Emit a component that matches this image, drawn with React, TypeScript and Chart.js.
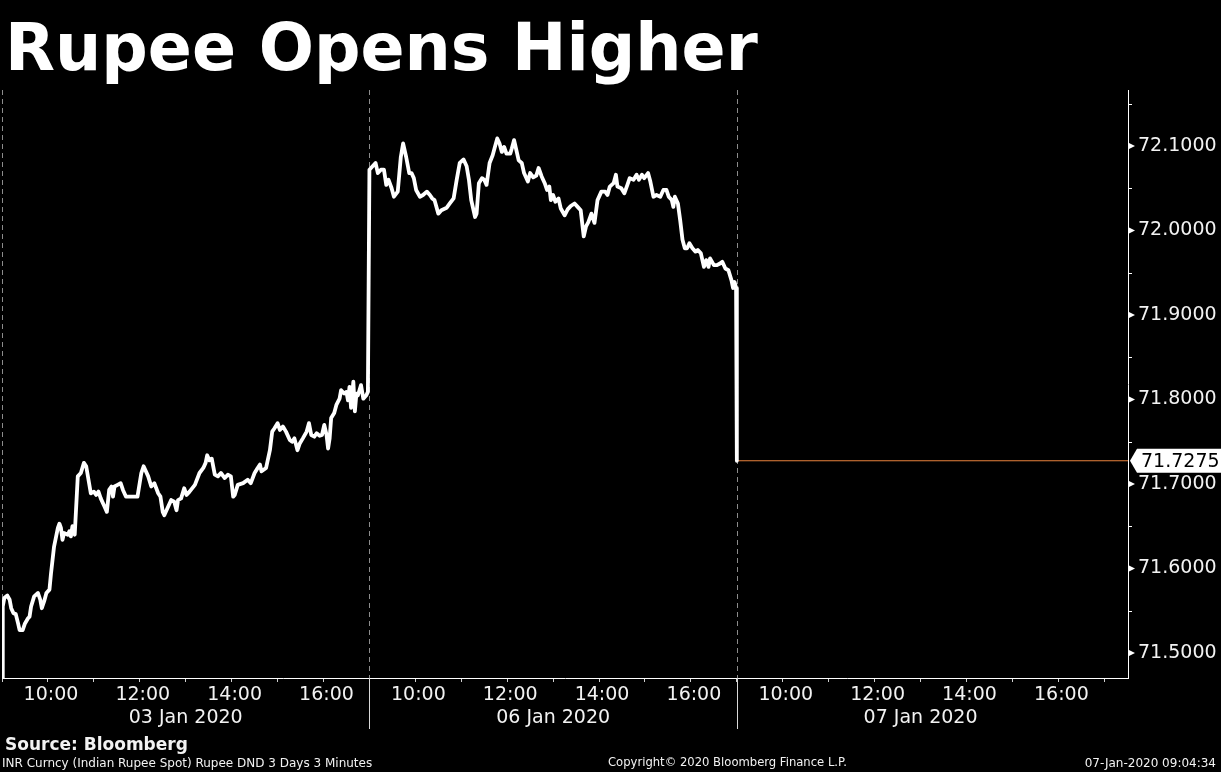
import React, { useEffect, useRef } from "react";
import { Chart, registerables } from "chart.js";

Chart.register(...registerables);

// ---------- text ----------
const chartTitle = "Rupee Opens Higher";
const dayLabels = ["03 Jan 2020", "06 Jan 2020", "07 Jan 2020"];
const sourceText = "Source: Bloomberg";
const securityText = "INR Curncy (Indian Rupee Spot) Rupee DND 3 Days 3 Minutes";
const copyrightText = "Copyright\u00a9 2020 Bloomberg Finance L.P.";
const stampText = "07-Jan-2020 09:04:34";

// ---------- session / axis ----------
const sessionStartHour = 9;
const sessionLength = 480; // minutes, 09:00 - 17:00
const sessionHours = [9, 10, 11, 12, 13, 14, 15, 16, 17];
const labelledHours = [10, 12, 14, 16];
const axisEndMinute = 1471;

const yMin = 71.4704;
const yMax = 72.1663;
const yMajorTicks = [71.5, 71.6, 71.7, 71.8, 71.9, 72.0, 72.1];
const yMinorTicks = [71.55, 71.65, 71.75, 71.85, 71.95, 72.05, 72.15];
const lastPrice = 71.7275;

// ---------- data: [minute after 09:00, price] ----------
const day1Quotes: [number, number][] = [
  [0, 71.47], [1, 71.555], [3, 71.565], [7, 71.568], [10, 71.563], [12, 71.553], [15, 71.547], [18, 71.546],
  [21, 71.535], [23, 71.527], [27, 71.527], [30, 71.535], [34, 71.541], [36, 71.543], [38, 71.555], [42, 71.567],
  [47, 71.571], [50, 71.563], [52, 71.553], [55, 71.561], [58, 71.571], [62, 71.575], [64, 71.594], [68, 71.626],
  [73, 71.648], [75, 71.653], [77, 71.648], [79, 71.634], [81, 71.642], [86, 71.64], [88, 71.644], [90, 71.638],
  [92, 71.65], [95, 71.64], [99, 71.709], [103, 71.713], [107, 71.725], [110, 71.721], [113, 71.705], [116, 71.689],
  [120, 71.691], [123, 71.687], [126, 71.691], [129, 71.683], [134, 71.673], [137, 71.667], [140, 71.693], [143, 71.697],
  [145, 71.685], [147, 71.697], [151, 71.699], [155, 71.701], [158, 71.693], [162, 71.685], [169, 71.685], [177, 71.685],
  [182, 71.713], [185, 71.721], [191, 71.709], [195, 71.697], [199, 71.701], [204, 71.689], [207, 71.685], [210, 71.667],
  [212, 71.663], [217, 71.673], [221, 71.681], [225, 71.679], [228, 71.669], [230, 71.681], [234, 71.683], [238, 71.695],
  [241, 71.687], [245, 71.691], [252, 71.699], [258, 71.713], [263, 71.719], [266, 71.725], [268, 71.734], [271, 71.728],
  [274, 71.73], [278, 71.711], [282, 71.709], [286, 71.713], [291, 71.707], [295, 71.711], [299, 71.709], [302, 71.685],
  [304, 71.687], [308, 71.699], [315, 71.701], [321, 71.705], [325, 71.701], [330, 71.713], [334, 71.719], [337, 71.723],
  [339, 71.715], [345, 71.719], [350, 71.74], [353, 71.762], [356, 71.766], [360, 71.772], [363, 71.764], [367, 71.768],
  [371, 71.762], [376, 71.752], [379, 71.75], [382, 71.754], [386, 71.74], [389, 71.748], [393, 71.754], [398, 71.762],
  [401, 71.772], [404, 71.758], [408, 71.756], [411, 71.76], [415, 71.757], [418, 71.758], [421, 71.77], [424, 71.758],
  [426, 71.742], [428, 71.754], [430, 71.778], [434, 71.784], [437, 71.794], [441, 71.801], [443, 71.811], [447, 71.807],
  [450, 71.809], [452, 71.799], [454, 71.815], [456, 71.79], [459, 71.821], [461, 71.786], [463, 71.807], [465, 71.805],
  [469, 71.817], [472, 71.801], [476, 71.805], [478, 71.809],
];

const day2Quotes: [number, number][] = [
  [0, 72.072], [8, 72.08], [11, 72.068], [15, 72.072], [19, 72.072], [22, 72.054], [25, 72.06], [29, 72.05],
  [32, 72.04], [37, 72.046], [41, 72.087], [44, 72.103], [48, 72.087], [52, 72.068], [55, 72.068], [58, 72.062],
  [61, 72.048], [66, 72.04], [70, 72.042], [75, 72.046], [79, 72.042], [82, 72.038], [85, 72.036], [90, 72.02],
  [94, 72.024], [101, 72.027], [105, 72.032], [110, 72.038], [114, 72.06], [118, 72.08], [123, 72.084], [127, 72.076],
  [130, 72.06], [133, 72.036], [138, 72.016], [140, 72.02], [143, 72.056], [147, 72.062], [150, 72.06], [153, 72.054],
  [157, 72.08], [161, 72.089], [164, 72.099], [167, 72.109], [170, 72.103], [173, 72.093], [176, 72.099], [179, 72.091],
  [184, 72.091], [186, 72.097], [189, 72.107], [192, 72.095], [195, 72.083], [199, 72.08], [202, 72.068], [207, 72.058],
  [210, 72.068], [214, 72.063], [218, 72.065], [221, 72.074], [225, 72.064], [229, 72.056], [232, 72.048], [235, 72.052],
  [237, 72.036], [240, 72.042], [243, 72.034], [247, 72.038], [250, 72.026], [255, 72.018], [259, 72.025], [263, 72.029],
  [268, 72.032], [272, 72.028], [276, 72.024], [280, 71.993], [283, 72.005], [286, 72.01], [290, 72.02], [294, 72.009],
  [298, 72.036], [303, 72.046], [308, 72.046], [311, 72.042], [314, 72.052], [319, 72.056], [322, 72.066], [324, 72.052],
  [329, 72.05], [333, 72.044], [337, 72.054], [340, 72.062], [345, 72.06], [349, 72.066], [352, 72.06], [356, 72.066],
  [359, 72.062], [364, 72.068], [367, 72.058], [371, 72.04], [375, 72.042], [380, 72.04], [384, 72.048], [388, 72.048],
  [391, 72.04], [395, 72.036], [397, 72.028], [399, 72.04], [403, 72.032], [406, 72.012], [409, 71.989], [412, 71.979],
  [415, 71.979], [418, 71.985], [422, 71.979], [426, 71.975], [429, 71.977], [433, 71.973], [437, 71.957], [440, 71.965],
  [443, 71.957], [445, 71.967], [450, 71.959], [454, 71.959], [458, 71.961], [461, 71.963], [465, 71.955], [469, 71.953],
  [473, 71.941], [475, 71.932], [477, 71.939], [479, 71.932],
];

const day3Quotes: [number, number][] = [[0, 71.7275]];

const dayQuotes = [day1Quotes, day2Quotes, day3Quotes];

// ---------- styles ----------
const FONT = "'DejaVu Sans', Verdana, sans-serif";
const TEXT = "#f2f2f2";
const LAST_COLOR = "#e8823c";

const hourTickMinutes: number[] = [];
for (let d = 0; d < dayLabels.length; d++) {
  sessionHours.forEach((h) => {
    const m = d * sessionLength + (h - sessionStartHour) * 60;
    if (!hourTickMinutes.includes(m)) hourTickMinutes.push(m);
  });
}

function hourLabel(v: number): string {
  const within = ((v % sessionLength) + sessionLength) % sessionLength;
  const hour = sessionStartHour + Math.round(within / 60);
  return labelledHours.includes(hour) ? `${hour}:00` : "";
}

const decorPlugin = {
  id: "bbgDecor",
  beforeDatasetsDraw(chart: any) {
    const { ctx, chartArea, scales } = chart;
    const xs = scales.x;
    ctx.save();
    ctx.strokeStyle = "#8c8c8c";
    ctx.lineWidth = 1;
    ctx.setLineDash([5, 4]);
    for (let d = 0; d < dayLabels.length; d++) {
      const px = Math.round(xs.getPixelForValue(d * sessionLength)) + 0.5;
      ctx.beginPath();
      ctx.moveTo(px, chartArea.top);
      ctx.lineTo(px, chartArea.bottom);
      ctx.stroke();
    }
    ctx.restore();
  },
  afterDraw(chart: any) {
    const { ctx, chartArea, scales } = chart;
    const xs = scales.x;
    const ys = scales.y;
    ctx.save();
    // solid separators under the axis
    ctx.strokeStyle = "#d8d8d8";
    ctx.lineWidth = 1;
    for (let d = 1; d < dayLabels.length; d++) {
      const px = Math.round(xs.getPixelForValue(d * sessionLength)) + 0.5;
      ctx.beginPath();
      ctx.moveTo(px, chartArea.bottom);
      ctx.lineTo(px, chartArea.bottom + 51);
      ctx.stroke();
    }
    // day labels
    ctx.fillStyle = TEXT;
    ctx.font = `19px ${FONT}`;
    ctx.textAlign = "center";
    ctx.textBaseline = "middle";
    dayLabels.forEach((lab, d) => {
      const px = xs.getPixelForValue(d * sessionLength + sessionLength / 2);
      ctx.fillText(lab, px, chartArea.bottom + 40);
    });
    // y tick marks
    const ax = chartArea.right + 1;
    ctx.fillStyle = "#ffffff";
    ctx.strokeStyle = "#ffffff";
    yMajorTicks.forEach((v) => {
      const py = ys.getPixelForValue(v);
      ctx.beginPath();
      ctx.moveTo(ax, py - 3);
      ctx.lineTo(ax + 6, py);
      ctx.lineTo(ax, py + 3);
      ctx.closePath();
      ctx.fill();
    });
    yMinorTicks.forEach((v) => {
      const py = Math.round(ys.getPixelForValue(v)) + 0.5;
      ctx.beginPath();
      ctx.moveTo(ax, py);
      ctx.lineTo(ax + 3, py);
      ctx.stroke();
    });
    // last price tag
    const ly = ys.getPixelForValue(lastPrice);
    ctx.fillStyle = "#ffffff";
    ctx.beginPath();
    ctx.moveTo(ax + 1, ly);
    ctx.lineTo(ax + 8, ly - 12);
    ctx.lineTo(chart.width, ly - 12);
    ctx.lineTo(chart.width, ly + 12);
    ctx.lineTo(ax + 8, ly + 12);
    ctx.closePath();
    ctx.fill();
    ctx.fillStyle = "#000000";
    ctx.font = `19px ${FONT}`;
    ctx.textAlign = "left";
    ctx.textBaseline = "middle";
    ctx.fillText(lastPrice.toFixed(4), ax + 12, ly + 1);
    ctx.restore();
  },
};

export default function App() {
  const ref = useRef<HTMLCanvasElement | null>(null);

  useEffect(() => {
    if (!ref.current) return;
    const pricePoints = dayQuotes.flatMap((q, d) =>
      q.map(([m, v]) => ({ x: d * sessionLength + m, y: v }))
    );
    const lastStart = (dayQuotes.length - 1) * sessionLength;
    const chart = new Chart(ref.current, {
      type: "line",
      data: {
        datasets: [
          {
            data: pricePoints,
            borderColor: "#ffffff",
            borderWidth: 3.8,
            pointRadius: 0,
            tension: 0,
            borderJoinStyle: "round",
            borderCapStyle: "round",
          },
          {
            data: [
              { x: lastStart, y: lastPrice },
              { x: axisEndMinute, y: lastPrice },
            ],
            borderColor: LAST_COLOR,
            borderWidth: 1,
            pointRadius: 0,
            tension: 0,
          },
        ],
      },
      options: {
        animation: false,
        responsive: false,
        events: [],
        layout: { padding: { top: 90, left: 0, right: 0, bottom: 0 } },
        plugins: { legend: { display: false }, tooltip: { enabled: false }, title: { display: false } },
        scales: {
          x: {
            type: "linear",
            position: "bottom",
            min: 0,
            max: axisEndMinute,
            afterBuildTicks: (s: any) => {
              s.ticks = hourTickMinutes.map((v) => ({ value: v }));
            },
            afterFit: (s: any) => {
              s.height = 94;
            },
            ticks: {
              autoSkip: false,
              maxRotation: 0,
              minRotation: 0,
              color: TEXT,
              font: { family: FONT, size: 19 },
              padding: 2,
              labelOffset: 3,
              callback: (v: any) => hourLabel(Number(v)),
            },
            grid: { drawOnChartArea: false, drawTicks: true, tickLength: 4, color: "#cfcfcf" },
            border: { display: true, color: "#ffffff", width: 1 },
          },
          y: {
            type: "linear",
            position: "right",
            min: yMin,
            max: yMax,
            afterBuildTicks: (s: any) => {
              s.ticks = [...yMajorTicks, ...yMinorTicks].sort((a, b) => a - b).map((v) => ({ value: v }));
            },
            afterFit: (s: any) => {
              s.width = 93;
            },
            ticks: {
              color: TEXT,
              font: { family: FONT, size: 19 },
              padding: 3,
              callback: (v: any) => {
                const n = Number(v);
                return yMajorTicks.some((t) => Math.abs(t - n) < 1e-6) ? n.toFixed(4) : "";
              },
            },
            grid: { drawOnChartArea: false, drawTicks: true, tickLength: 7, color: "rgba(0,0,0,0)" },
            border: { display: true, color: "#ffffff", width: 1 },
          },
        },
      },
      plugins: [decorPlugin],
    } as any);
    return () => chart.destroy();
  }, []);

  const base: React.CSSProperties = {
    position: "absolute",
    color: TEXT,
    fontFamily: FONT,
    whiteSpace: "nowrap",
    lineHeight: 1,
  };

  return (
    <div
      style={{
        position: "fixed",
        left: 0,
        top: 0,
        width: 1221,
        height: 772,
        background: "#000000",
        overflow: "hidden",
      }}
    >
      <canvas ref={ref} width={1221} height={772} style={{ position: "absolute", left: 0, top: 0, display: "block" }} />
      <div style={{ ...base, left: 5, top: 15, fontSize: 65, fontWeight: "bold", color: "#ffffff" }}>{chartTitle}</div>
      <div style={{ ...base, left: 5, top: 736, fontSize: 17, fontWeight: "bold" }}>{sourceText}</div>
      <div style={{ ...base, left: 2, top: 757, fontSize: 12 }}>{securityText}</div>
      <div style={{ ...base, left: 608, top: 757, fontSize: 11.6 }}>{copyrightText}</div>
      <div style={{ ...base, right: 5, top: 757, fontSize: 12 }}>{stampText}</div>
    </div>
  );
}
